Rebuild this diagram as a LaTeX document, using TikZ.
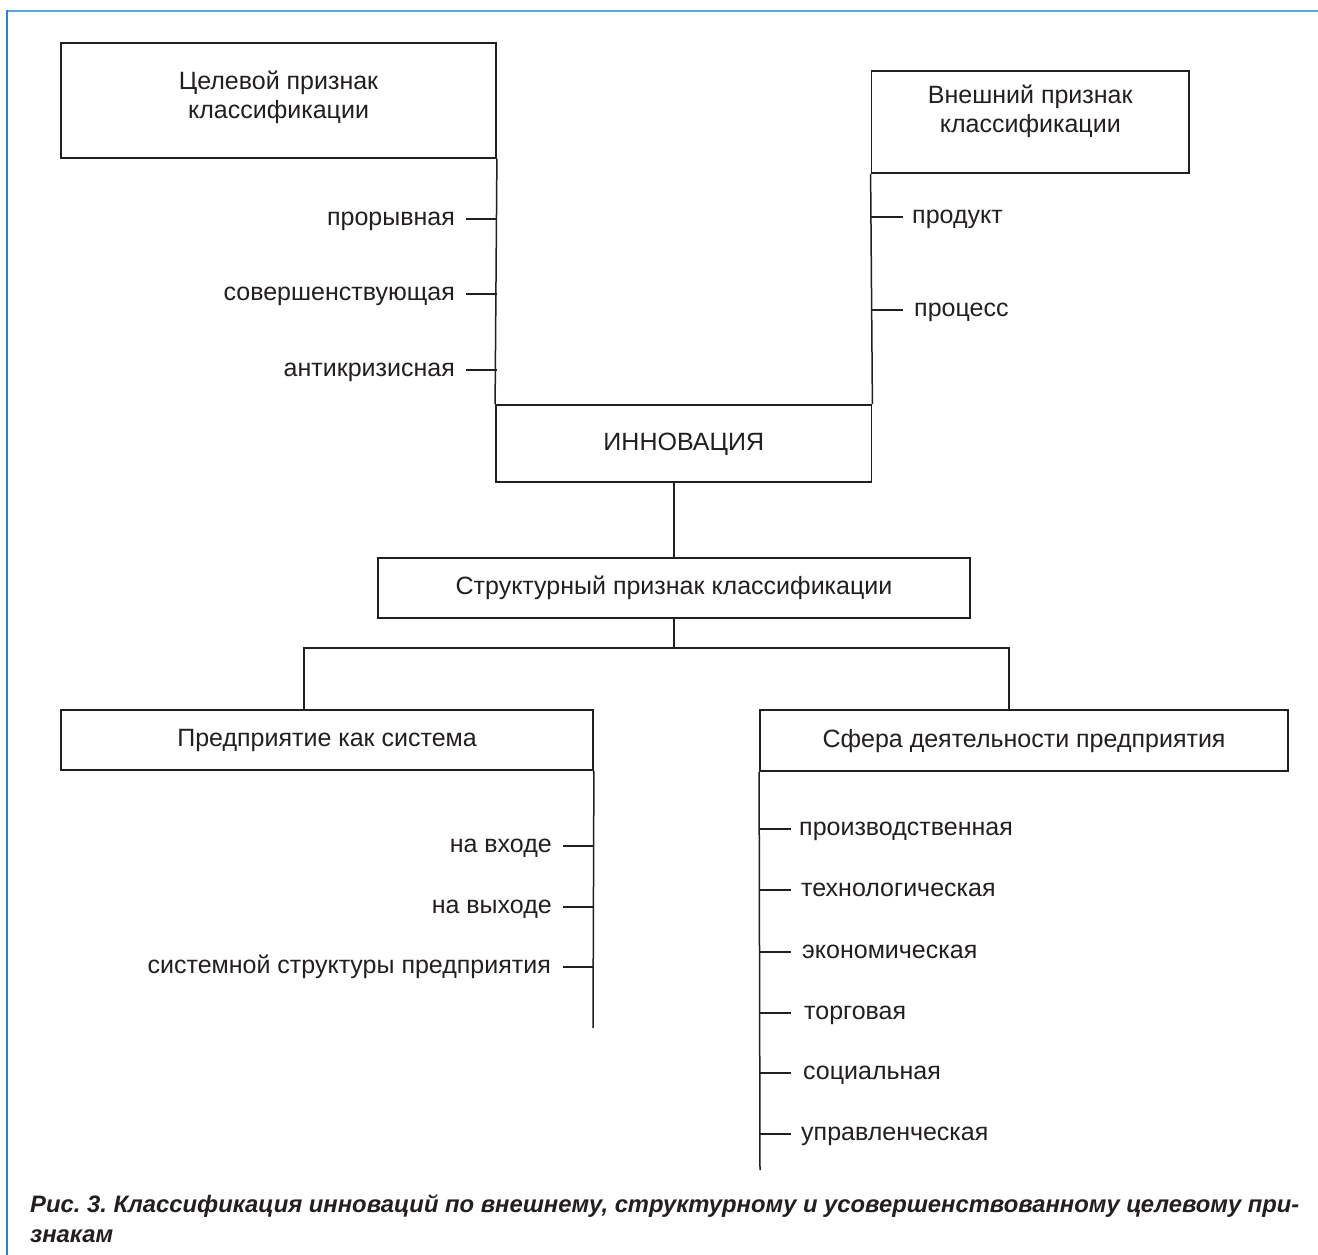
\documentclass[tikz,border=0pt]{standalone}
\usepackage{fontspec}
\setmainfont{Liberation Sans}
\definecolor{ink}{HTML}{231F20}
\definecolor{frametop}{HTML}{5AA2D8}
\definecolor{frameleft}{HTML}{2F80D0}
\frenchspacing
\begin{document}
\begin{tikzpicture}[x=1pt,y=-1pt,
  every node/.style={font=\fontsize{25}{29}\selectfont,text=ink},
  box/.style={draw=ink,line width=1.8pt,inner sep=0pt,text height=18pt,text depth=5pt},
  lbl/.style={inner sep=0pt,text height=18pt,text depth=5pt},
  twoline/.style={inner sep=0pt,align=center},
  link/.style={draw=ink,line width=1.5pt},
  capline/.style={inner sep=0pt,anchor=base west,font=\bfseries\itshape\fontsize{23.8}{30}\selectfont}]
\useasboundingbox (0,0) rectangle (1318,1255);
\fill[white] (0,0) rectangle (1318,1255);
\draw[frametop,line width=2pt] (6,11) -- (1318,11);
\draw[frameleft,line width=2pt] (7,10) -- (7,1255);

\node[box,minimum width=435pt,minimum height=115pt] (cel) at (278.5,100.5) {};
\node[twoline] (celT) at (278.5,97.5) {Целевой признак\\классификации};
\node[box,minimum width=317.5pt,minimum height=102pt] (ext) at (1030.25,122) {};
\node[twoline] (extT) at (1030.25,111) {Внешний признак\\классификации};
\node[box,minimum width=375.5pt,minimum height=77pt] (innov) at (683.75,443.5) {ИННОВАЦИЯ};
\node[box,minimum width=592pt,minimum height=60pt] (struc) at (674,588) {Структурный признак классификации};
\node[box,minimum width=532pt,minimum height=60pt] (pred) at (327,740) {Предприятие как система};
\node[box,minimum width=528pt,minimum height=61pt] (sfera) at (1024,740.5) {Сфера деятельности предприятия};

\draw[link] (cel.south east) -- (innov.north west);
\draw[link] (ext.south west) -- (innov.north east);
\draw[link] (innov.south -| struc.north) -- (struc.north);

\coordinate (fork) at (674,648);
\coordinate (forkL) at (304,648);
\coordinate (forkR) at (1009,648);
\draw[link] (struc.south) -- (fork);
\draw[link] (forkL |- pred.north) -- (forkL) -- (forkR) -- (forkR |- sfera.north);

\node[lbl,anchor=east] (proryv) at (455,219) {прорывная};
\node[lbl,anchor=east] (sover) at (455,294) {совершенствующая};
\node[lbl,anchor=east] (anti) at (455,370) {антикризисная};
\draw[link] ([xshift=11pt]proryv.east) -- (proryv.east -| cel.east);
\draw[link] ([xshift=11pt]sover.east) -- (sover.east -| cel.east);
\draw[link] ([xshift=11pt]anti.east) -- (anti.east -| cel.east);

\node[lbl,anchor=west] (produkt) at (912,217) {продукт};
\node[lbl,anchor=west] (process) at (914,310) {процесс};
\draw[link] (produkt.west -| ext.west) -- ([xshift=-9pt]produkt.west);
\draw[link] (process.west -| ext.west) -- ([xshift=-11pt]process.west);

\coordinate (predEnd) at (593,1028);
\draw[link] (pred.south east) -- (predEnd);
\node[lbl,anchor=east] (vhod) at (552,846) {на входе};
\node[lbl,anchor=east] (vyhod) at (552,907) {на выходе};
\node[lbl,anchor=east] (sistem) at (551,967) {системной структуры предприятия};
\draw[link] ([xshift=11pt]vhod.east) -- (vhod.east -| pred.east);
\draw[link] ([xshift=11pt]vyhod.east) -- (vyhod.east -| pred.east);
\draw[link] ([xshift=12pt]sistem.east) -- (sistem.east -| pred.east);

\coordinate (sferaEnd) at (760,1170);
\draw[link] (sfera.south west) -- (sferaEnd);
\node[lbl,anchor=west] (proizv) at (799,829) {производственная};
\node[lbl,anchor=west] (tehno) at (801,890) {технологическая};
\node[lbl,anchor=west] (ekon) at (802,952) {экономическая};
\node[lbl,anchor=west] (torg) at (804,1013) {торговая};
\node[lbl,anchor=west] (soc) at (803,1073) {социальная};
\node[lbl,anchor=west] (uprav) at (801,1134) {управленческая};
\draw[link] (proizv.west -| sfera.west) -- ([xshift=-8pt]proizv.west);
\draw[link] (tehno.west -| sfera.west) -- ([xshift=-10pt]tehno.west);
\draw[link] (ekon.west -| sfera.west) -- ([xshift=-11pt]ekon.west);
\draw[link] (torg.west -| sfera.west) -- ([xshift=-13pt]torg.west);
\draw[link] (soc.west -| sfera.west) -- ([xshift=-12pt]soc.west);
\draw[link] (uprav.west -| sfera.west) -- ([xshift=-10pt]uprav.west);

\node[capline] (cap1) at (30,1212) {Рис. 3. Классификация инноваций по внешнему, структурному и усовершенствованному целевому при-};
\node[capline] (cap2) at (30,1242) {знакам};
\end{tikzpicture}
\end{document}
